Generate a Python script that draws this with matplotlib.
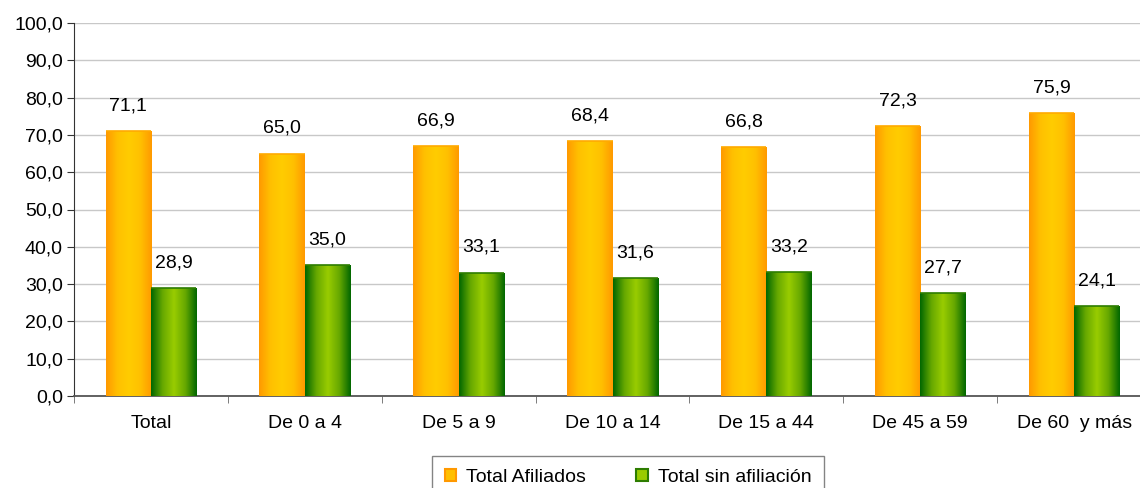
import matplotlib
matplotlib.use("Agg")
import matplotlib.pyplot as plt
import numpy as np
from matplotlib.colors import LinearSegmentedColormap
from matplotlib.patches import Rectangle

plt.rcParams['font.family'] = ['Liberation Sans', 'DejaVu Sans']

categories = ["Total", "De 0 a 4", "De 5 a 9", "De 10 a 14", "De 15 a 44", "De 45 a 59", "De 60  y más"]
afiliados = [71.1, 65.0, 66.9, 68.4, 66.8, 72.3, 75.9]
sin_afiliacion = [28.9, 35.0, 33.1, 31.6, 33.2, 27.7, 24.1]
series_names = ["Total Afiliados", "Total sin afiliación"]

FS = 14
W, H = 1140, 488
fig = plt.figure(figsize=(W / 100, H / 100), dpi=100)
ax = fig.add_axes([74 / W, (H - 396) / H, (1151 - 74) / W, (396 - 23) / H])

orange_cmap = LinearSegmentedColormap.from_list("o", ["#FF9900", "#FFC000", "#FFCC00", "#FFC000", "#FF9900"])
green_cmap = LinearSegmentedColormap.from_list("g", ["#006600", "#66A800", "#99CC00", "#66A800", "#006600"])

x = np.arange(len(categories))
bw = 0.295

def grad_bars(xs, vals, cmap, edge):
    bars = ax.bar(xs, vals, width=bw, color="none", edgecolor="none", zorder=3)
    grad = np.linspace(0, 1, 256).reshape(1, -1)
    for b in bars:
        x0, y0 = b.get_x(), b.get_y()
        w, h = b.get_width(), b.get_height()
        im = ax.imshow(grad, cmap=cmap, aspect="auto", extent=[x0, x0 + w, y0, y0 + h],
                       zorder=3, interpolation="bicubic")
        im.set_clip_path(b)
        ax.plot([x0, x0 + w], [y0 + h, y0 + h], color=edge, lw=1.2, zorder=4, solid_capstyle="butt")
    return bars

grad_bars(x - bw / 2, afiliados, orange_cmap, "#FFAA00")
grad_bars(x + bw / 2, sin_afiliacion, green_cmap, "#2E7D00")

for xi, v in zip(x - bw / 2, afiliados):
    ax.annotate(f"{v:.1f}".replace(".", ","), (xi, v), xytext=(0, 12), textcoords="offset points",
                ha="center", va="bottom", fontsize=FS, zorder=5)
for xi, v in zip(x + bw / 2, sin_afiliacion):
    ax.annotate(f"{v:.1f}".replace(".", ","), (xi, v), xytext=(0, 12), textcoords="offset points",
                ha="center", va="bottom", fontsize=FS, zorder=5)

ax.set_xlim(-0.5, 6.5)
ax.set_ylim(0, 100)
ax.set_yticks(np.arange(0, 101, 10))
ax.set_yticklabels([f"{v:.1f}".replace(".", ",") for v in np.arange(0, 101, 10)], fontsize=FS)
ax.yaxis.grid(True, color="#C8C8C8", lw=1)
ax.set_axisbelow(True)

ax.set_xticks(x)
ax.set_xticklabels(categories, fontsize=FS)
ax.tick_params(axis="x", which="major", length=0, pad=14)
ax.set_xticks(np.arange(-0.5, 7, 1), minor=True)
ax.tick_params(axis="x", which="minor", length=5, color="#666666")
ax.tick_params(axis="y", length=5, color="#333333", pad=3)

for s in ["top", "right"]:
    ax.spines[s].set_visible(False)
ax.spines["left"].set_color("#333333")
ax.spines["bottom"].set_color("#555555")
ax.spines["bottom"].set_linewidth(1.3)

handles = [Rectangle((0, 0), 1, 1, facecolor="#FFC000", edgecolor="#FF9900", lw=1.5),
           Rectangle((0, 0), 1, 1, facecolor="#99CC00", edgecolor="#2E7D00", lw=1.5)]
leg = fig.legend(handles, series_names, loc="upper center", bbox_to_anchor=(628 / W, (H - 456) / H),
                 ncol=2, fontsize=FS, frameon=True, fancybox=False, edgecolor="#666666",
                 handlelength=0.6, handleheight=0.6, columnspacing=2.6, handletextpad=0.5,
                 borderpad=0.65, borderaxespad=0)
leg.get_frame().set_linewidth(1)

fig.savefig("out.png", dpi=100)
